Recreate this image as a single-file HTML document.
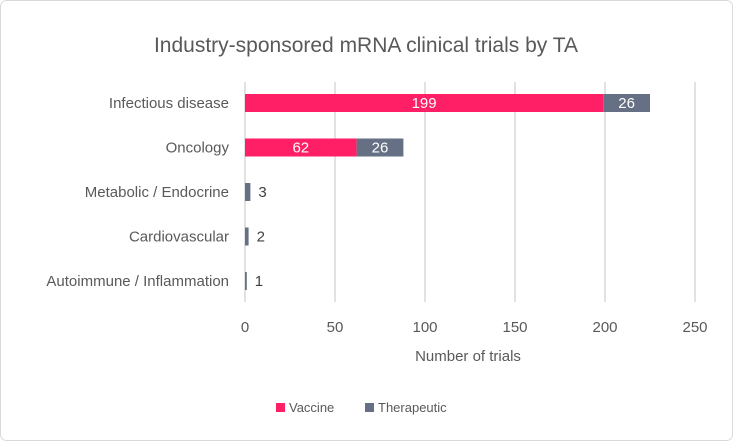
<!DOCTYPE html>
<html><head><meta charset="utf-8"><style>
body{margin:0;background:#fff;}
svg{display:block;font-family:"Liberation Sans",sans-serif;}
</style></head><body>
<svg width="733" height="441" viewBox="0 0 733 441">
<rect x="0.5" y="0.5" width="732" height="440" rx="6" fill="#fff" stroke="#d9d9d9"/>
<text x="366" y="52" text-anchor="middle" font-size="21" fill="#595959">Industry-sponsored  mRNA clinical trials by TA</text>
<g id="grid"></g><g id="bars"></g><g id="labels"></g>
<text x="468" y="361" text-anchor="middle" font-size="15" fill="#595959">Number of trials</text>
<rect x="276" y="403" width="9" height="9" fill="#ff1f66"/>
<text x="289" y="412" font-size="13" fill="#595959">Vaccine</text>
<rect x="365" y="403" width="9" height="9" fill="#667085"/>
<text x="378" y="412" font-size="13" fill="#595959">Therapeutic</text>
</svg>
<script>
const categories=["Infectious disease","Oncology","Metabolic / Endocrine","Cardiovascular","Autoimmune / Inflammation"];
const vaccine=[199,62,0,0,0];
const therapeutic=[26,26,3,2,1];
const ticks=[0,50,100,150,200,250];
const ns="http://www.w3.org/2000/svg";
const x0=245,pxPer=1.8,plotTop=82,rowH=44.5,barH=18;
const xs=v=>x0+v*pxPer;
const yc=i=>plotTop+21+i*rowH;
function mk(t,a,p){const e=document.createElementNS(ns,t);for(const k in a)e.setAttribute(k,a[k]);p.appendChild(e);return e;}
const g=document.getElementById('grid'),b=document.getElementById('bars'),l=document.getElementById('labels');
ticks.forEach(t=>{
const ln=mk('line',{x1:xs(t),x2:xs(t),y1:plotTop,y2:302,stroke:'#d9d9d9','stroke-width':1.5},g);


const tx=mk('text',{x:xs(t),y:332,'text-anchor':'middle','font-size':15,fill:'#595959'},g);
tx.textContent=t;


});
categories.forEach((c,i)=>{
const y=yc(i);
const ct=mk('text',{x:229,y:y+5,'text-anchor':'end','font-size':15,fill:'#595959'},l);
ct.textContent=c;


const v=vaccine[i],t=therapeutic[i];
if(v>0){
const r=mk('rect',{x:xs(0),y:y-barH/2,width:v*pxPer,height:barH,fill:'#ff1f66'},b);


const vt=mk('text',{x:xs(v/2),y:y+5,'text-anchor':'middle','font-size':15,fill:'#fff'},l);
vt.textContent=v;


}
const r2=mk('rect',{x:xs(v),y:y-barH/2,width:Math.max(t*pxPer,1),height:barH,fill:'#667085'},b);


const inside=v>0;
const tt=mk('text',{x:inside?xs(v+t/2):xs(v+t)+8,y:y+5,'text-anchor':inside?'middle':'start','font-size':15,fill:inside?'#fff':'#404040'},l);
tt.textContent=t;


});
</script>
</body></html>
